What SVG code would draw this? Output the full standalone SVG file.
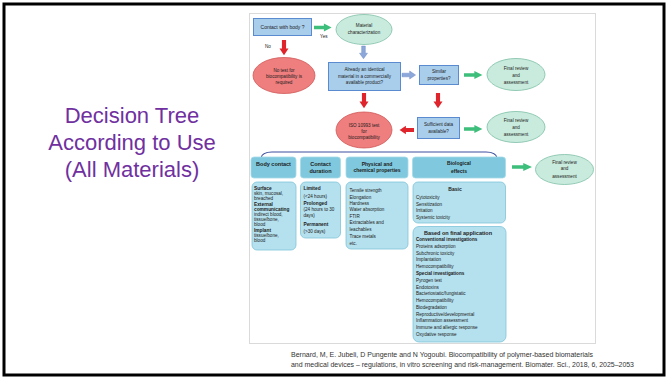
<svg xmlns="http://www.w3.org/2000/svg" xmlns:xlink="http://www.w3.org/1999/xlink" width="668" height="379" viewBox="0 0 668 379">
<style>
text{font-family:"Liberation Sans",Arial,sans-serif;fill:#1c1c1c}
.c{text-anchor:middle}
.b{font-weight:bold}
.f5{font-size:5px}
.f46{font-size:4.6px}
.f48{font-size:4.8px}
.f55{font-size:5.5px}
.dec{fill:#A9CEEC;stroke:#5A8AD0;stroke-width:1}
.tea{fill:#C9EBDD;stroke:#7DBFA6;stroke-width:0.8}
.red{fill:#EF7E7E;stroke:#D05A5A;stroke-width:0.8}
.hdr{fill:#7FC8DD;stroke:#A6DAE8;stroke-width:0.8}
.cnt{fill:#B5E0ED;stroke:#7FC4D9;stroke-width:0.8}
.title{font-size:22px;fill:#7030A0;text-anchor:middle}
.cite{font-size:6.8px;fill:#333}
.ag{fill:#3DBE7B}
.ar{fill:#E0242B}
.ab{fill:#8CA8DA;stroke:#5F80C0;stroke-width:0.5}
</style>
<defs>
<path id="arr" d="M0,-2.3 H9 V-5 L16,0 L9,5 V2.3 H0 Z"/>
</defs>
<rect x="0" y="0" width="668" height="379" fill="#fff"/>
<rect x="4" y="4" width="660" height="371" fill="none" stroke="#000" stroke-width="3"/>
<g id="title">
<text class="title" x="132" y="123">Decision Tree</text>
<text class="title" x="132" y="150">According to Use</text>
<text class="title" x="132" y="177">(All Materials)</text>
</g>
<rect x="249.5" y="13.5" width="346" height="330" fill="#fff" stroke="#DADADA" stroke-width="1"/>
<g id="connectors">
<use href="#arr" class="ag" transform="translate(314,27.5) scale(1.1,0.8)"/>
<use href="#arr" class="ar" transform="translate(284,40) rotate(90) scale(0.95,0.9)"/>
<use href="#arr" class="ab" transform="translate(363.5,46) rotate(90) scale(0.8,0.8)"/>
<use href="#arr" class="ab" transform="translate(402,75) scale(0.85,0.8)"/>
<use href="#arr" class="ag" transform="translate(464,75) scale(1.15,0.8)"/>
<use href="#arr" class="ar" transform="translate(364,93) rotate(90) scale(0.95,0.9)"/>
<use href="#arr" class="ar" transform="translate(438,93) rotate(90) scale(0.95,0.9)"/>
<use href="#arr" class="ar" transform="translate(414,130) rotate(180) scale(0.9,0.85)"/>
<use href="#arr" class="ag" transform="translate(464,129) scale(1.15,0.8)"/>
<use href="#arr" class="ag" transform="translate(512,167) scale(1.25,0.8)"/>
<path d="M261,158 Q262,152 272,152 H486 Q496,152 497,158" fill="none" stroke="#3A4E9E" stroke-width="1.2"/>
<text class="f46" x="320" y="38">Yes</text>
<text class="f46" x="265" y="47.5">No</text>
</g>
<g id="contact">
<rect class="dec" x="253.5" y="18.5" width="58" height="17"/>
<text class="f5 c" x="282.5" y="28.8">Contact with body ?</text>
</g>
<g id="material">
<ellipse class="tea" cx="364" cy="29.5" rx="28" ry="15"/>
<text class="f46 c" x="364" y="27">Material</text>
<text class="f46 c" x="364" y="34">characterization</text>
</g>
<g id="notest">
<ellipse class="red" cx="284" cy="75.5" rx="31" ry="18"/>
<text class="f46 c" x="284" y="71.5">No test for</text>
<text class="f46 c" x="284" y="77.5">biocompatibility is</text>
<text class="f46 c" x="284" y="84">required</text>
</g>
<g id="identical">
<rect class="dec" x="328.5" y="62.5" width="72" height="28"/>
<text class="f46 c" x="364.5" y="71">Already an identical</text>
<text class="f46 c" x="364.5" y="77.5">material in a commercially</text>
<text class="f46 c" x="364.5" y="84">available product?</text>
</g>
<g id="similar">
<rect class="dec" x="419.5" y="65.5" width="39" height="19"/>
<text class="f46 c" x="439" y="73.3">Similar</text>
<text class="f46 c" x="439" y="80">properties?</text>
</g>
<g id="final1">
<ellipse class="tea" cx="516" cy="74.5" rx="29" ry="16"/>
<text class="f46 c" x="516" y="70">Final review</text>
<text class="f46 c" x="516" y="76.5">and</text>
<text class="f46 c" x="516" y="84">assessment</text>
</g>
<g id="iso">
<ellipse class="red" cx="364" cy="130" rx="28" ry="18"/>
<text class="f46 c" x="364" y="126.5">ISO 10993 test</text>
<text class="f46 c" x="364" y="132.5">for</text>
<text class="f46 c" x="364" y="139">biocompatibility</text>
</g>
<g id="sufficient">
<rect class="dec" x="417.5" y="117.5" width="42" height="21"/>
<text class="f46 c" x="438.5" y="126.3">Sufficient data</text>
<text class="f46 c" x="438.5" y="133">available?</text>
</g>
<g id="final2">
<ellipse class="tea" cx="516" cy="127" rx="29" ry="15.5"/>
<text class="f46 c" x="516" y="121.5">Final review</text>
<text class="f46 c" x="516" y="128.5">and</text>
<text class="f46 c" x="516" y="136">assessment</text>
</g>
<g id="final3">
<ellipse class="tea" cx="564.5" cy="169.5" rx="29" ry="15"/>
<text class="f46 c" x="564.5" y="163.5">Final review</text>
<text class="f46 c" x="564.5" y="170.3">and</text>
<text class="f46 c" x="564.5" y="177.5">assessment</text>
</g>
<g id="bodycontact">
<rect class="hdr" x="251" y="157" width="45" height="21" rx="3"/>
<text class="f55 b c" x="273.5" y="166">Body contact</text>
<rect class="cnt" x="252" y="182" width="44" height="68" rx="5"/>
<text class="f48 b" x="254" y="190">Surface</text>
<text class="f46" x="254" y="195">skin, mucosal,</text>
<text class="f46" x="254" y="200">breached</text>
<text class="f48 b" x="254" y="205.5">External</text>
<text class="f48 b" x="254" y="211">communicating</text>
<text class="f46" x="254" y="216">indirect blood,</text>
<text class="f46" x="254" y="221">tissue/bone,</text>
<text class="f46" x="254" y="226">blood</text>
<text class="f48 b" x="254" y="232">Implant</text>
<text class="f46" x="254" y="237">tissue/bone,</text>
<text class="f46" x="254" y="242">blood</text>
</g>
<g id="duration">
<rect class="hdr" x="300.5" y="157" width="40" height="21" rx="3"/>
<text class="f55 b c" x="320.5" y="165.5">Contact</text>
<text class="f55 b c" x="320.5" y="173">duration</text>
<rect class="cnt" x="300.5" y="182" width="40" height="56" rx="5"/>
<text class="f48 b" x="303.5" y="190">Limited</text>
<text class="f46" x="303.5" y="197.5">(&lt;24 hours)</text>
<text class="f48 b" x="303.5" y="205">Prolonged</text>
<text class="f46" x="303.5" y="210.5">(24 hours to 30</text>
<text class="f46" x="303.5" y="216.5">days)</text>
<text class="f48 b" x="303.5" y="226">Permanent</text>
<text class="f46" x="303.5" y="233">(&gt;30 days)</text>
</g>
<g id="physical">
<rect class="hdr" x="346" y="157" width="62" height="21" rx="3"/>
<text class="f5 b c" x="377" y="165.5">Physical and</text>
<text class="f5 b c" x="377" y="172">chemical properties</text>
<rect class="cnt" x="346" y="182" width="62" height="67" rx="5"/>
<text class="f46" x="349.5" y="192">Tensile strength</text>
<text class="f46" x="349.5" y="198.5">Elongation</text>
<text class="f46" x="349.5" y="204.5">Hardness</text>
<text class="f46" x="349.5" y="211">Water absorption</text>
<text class="f46" x="349.5" y="217.5">FTIR</text>
<text class="f46" x="349.5" y="224">Extractables and</text>
<text class="f46" x="349.5" y="231">leachables</text>
<text class="f46" x="349.5" y="238">Trace metals</text>
<text class="f46" x="349.5" y="244.5">etc.</text>
</g>
<g id="biological">
<rect class="hdr" x="412.5" y="157" width="93" height="21" rx="3"/>
<text class="f5 b c" x="459" y="165">Biological</text>
<text class="f5 b c" x="459" y="173">effects</text>
</g>
<g id="basic">
<rect class="cnt" x="413" y="182" width="92.5" height="41" rx="5"/>
<text class="f5 b c" x="455" y="191">Basic</text>
<text class="f46" x="416" y="199">Cytotoxicity</text>
<text class="f46" x="416" y="205.5">Sensitization</text>
<text class="f46" x="416" y="212">Irritation</text>
<text class="f46" x="416" y="218.5">Systemic toxicity</text>
</g>
<g id="final-application">
<rect class="cnt" x="413" y="226.5" width="93" height="115.5" rx="6"/>
<text class="f55 b c" x="458" y="234.5">Based on final application</text>
<text class="f46 b" x="416" y="241">Conventional investigations</text>
<text class="f46" x="416" y="247.5">Proteins adsorption</text>
<text class="f46" x="416" y="254.5">Subchronic toxicity</text>
<text class="f46" x="416" y="261">Implantation</text>
<text class="f46" x="416" y="268">Hemocompatibility</text>
<text class="f46 b" x="416" y="275">Special investigations</text>
<text class="f46" x="416" y="281.5">Pyrogen test</text>
<text class="f46" x="416" y="288.5">Endotoxins</text>
<text class="f46" x="416" y="295">Bacteriostatic/fungistatic</text>
<text class="f46" x="416" y="301.5">Hemocompatibility</text>
<text class="f46" x="416" y="308.5">Biodegradation</text>
<text class="f46" x="416" y="315.5">Reproductive/developmental</text>
<text class="f46" x="416" y="322">Inflammation assessment</text>
<text class="f46" x="416" y="328.5">Immune and allergic response</text>
<text class="f46" x="416" y="335.5">Oxydative response</text>
</g>
<g id="citation">
<text class="cite" x="291" y="357" textLength="302" lengthAdjust="spacingAndGlyphs">Bernard, M, E. Jubeli, D Pungente and N Yogoubi. Biocompatibility of polymer-based biomaterials</text>
<text class="cite" x="291" y="366.5" textLength="343" lengthAdjust="spacingAndGlyphs">and medical devices – regulations, in vitro screening and risk-management. Biomater. Sci., 2018, 6, 2025–2053</text>
</g>
</svg>
